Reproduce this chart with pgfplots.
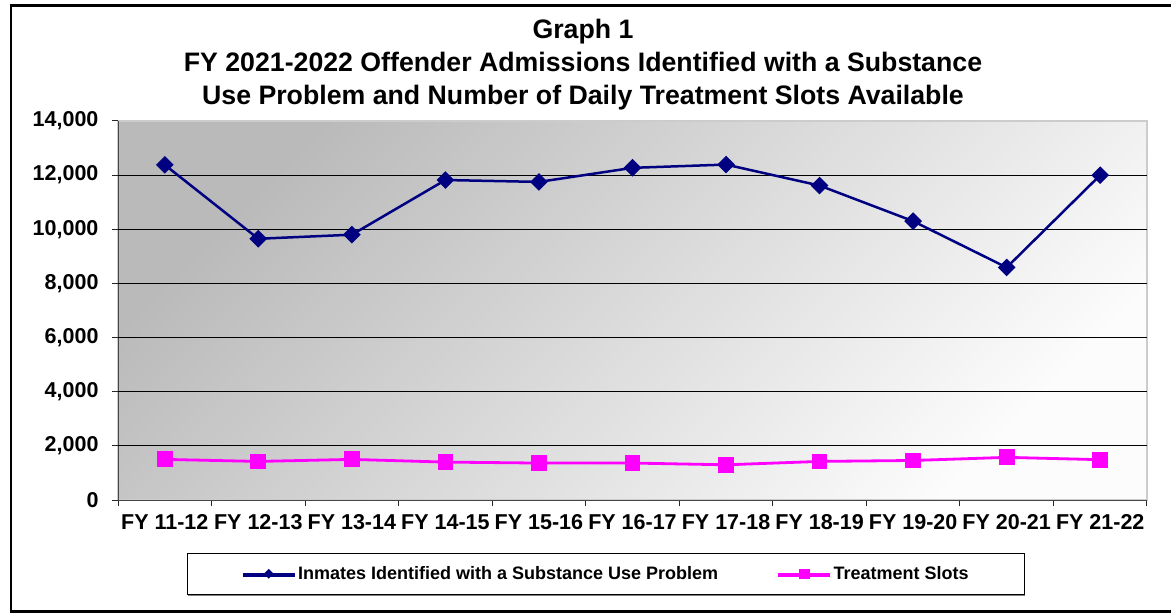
\documentclass[border=0pt]{standalone}
\usepackage{fontspec}
\setmainfont{Liberation Sans}
\usepackage{pgfplots}
\pgfplotsset{compat=1.18}
\usetikzlibrary{shadows}
\definecolor{navy}{RGB}{0,0,128}
\definecolor{mag}{RGB}{255,0,255}
\definecolor{bgTL}{RGB}{186,186,186}
\definecolor{bgBR}{RGB}{252,252,252}
\begin{document}
\begin{tikzpicture}[x=1pt,y=1pt]
\useasboundingbox (0pt,0pt) rectangle (1171pt,614pt);
\clip (0pt,0pt) rectangle (1171pt,614pt);
\fill[white] (0pt,0pt) rectangle (1171pt,614pt);
\draw[line width=2.6pt] (11pt,2.5pt) rectangle (1190pt,608.5pt);
\node[anchor=base, font=\fontsize{26.7}{33}\selectfont\bfseries] at (583pt,575pt) {Graph 1};
\node[anchor=base, font=\fontsize{26.7}{33}\selectfont\bfseries] at (583pt,542pt) {FY 2021-2022 Offender Admissions Identified with a Substance};
\node[anchor=base, font=\fontsize{26.7}{33}\selectfont\bfseries] at (583pt,509pt) {Use Problem and Number of Daily Treatment Slots Available};
\begin{axis}[
  at={(118pt,114pt)}, anchor=south west, scale only axis,
  width=1029pt, height=379pt,
  xmin=-0.5, xmax=10.5, ymin=0, ymax=14000,
  axis x line*=bottom, axis y line*=left,
  axis line style={-, draw=gray!55!black, line width=1pt},
  axis background/.style={shade, top color=bgTL, bottom color=bgBR, shading angle=45, draw=gray!40, line width=1.2pt},
  xtick={0,...,10},
  xticklabels={FY 11-12,FY 12-13,FY 13-14,FY 14-15,FY 15-16,FY 16-17,FY 17-18,FY 18-19,FY 19-20,FY 20-21,FY 21-22},
  major x tick style={draw=none},
  minor xtick={-0.5,0.5,...,10.5},
  ytick={0,2000,...,14000},
  extra y ticks={2000,4000,...,12000},
  extra y tick labels={},
  extra y tick style={grid=major, major grid style={black, line width=1pt}},
  tick align=outside, major tick length=6pt, minor tick length=6pt,
  tick style={gray!30!black, line width=1pt},
  scaled y ticks=false,
  /pgf/number format/.cd, 1000 sep={,}, assume math mode=true,
  /pgfplots/.cd,
  ticklabel style={font=\fontsize{21.5}{25}\selectfont\bfseries},
  yticklabel style={xshift=-10pt},
  xticklabel style={yshift=-5pt},
  legend style={at={(0.0671,-0.1398)}, anchor=north west, legend columns=2,
    draw=black, line width=1pt, font=\fontsize{18}{21}\selectfont\bfseries,
    inner xsep=54pt, inner ysep=11pt,
    /tikz/every even column/.append style={column sep=57pt},
    drop shadow={shadow xshift=0pt, shadow yshift=-2pt, fill=gray, opacity=1}},
  legend cell align=left,
  legend image code/.code={\draw[mark repeat=2,mark phase=2] plot coordinates {(0pt,0pt)(26pt,0pt)(52pt,0pt)};},
]
\addplot[navy, line width=2.5pt, mark=square*, mark size=5pt, mark options={rotate=45}, forget plot]
  coordinates {(0,12380) (1,9650) (2,9800) (3,11820) (4,11750) (5,12270) (6,12390) (7,11615) (8,10300) (9,8590) (10,12000)};
\addplot[mag, line width=2.8pt, mark=square*, mark size=6.5pt, forget plot]
  coordinates {(0,1500) (1,1425) (2,1500) (3,1400) (4,1365) (5,1365) (6,1300) (7,1425) (8,1460) (9,1575) (10,1490)};
\addlegendimage{navy, line width=2.5pt, mark=square*, mark size=2.2pt, mark options={rotate=45}}
\addlegendentry{Inmates Identified with a Substance Use Problem}
\addlegendimage{mag, line width=2.5pt, mark=square*, mark size=4pt}
\addlegendentry{Treatment Slots}
\end{axis}
\end{tikzpicture}
\end{document}
